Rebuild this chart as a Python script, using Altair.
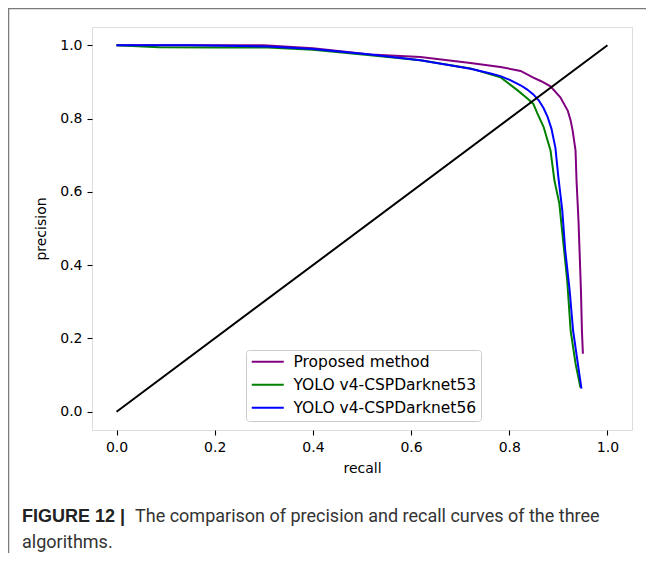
import altair as alt
import pandas as pd

series_names = ["Proposed method", "YOLO v4-CSPDarknet53", "YOLO v4-CSPDarknet56"]
series_colors = ["purple", "green", "blue"]

proposed_recall = [0.0, 0.15, 0.30, 0.40, 0.517, 0.619, 0.721, 0.782, 0.823, 0.849, 0.865,
                   0.884, 0.904, 0.919, 0.925, 0.929, 0.935, 0.937, 0.941, 0.946, 0.948, 0.950]
proposed_precision = [1.0, 1.0, 1.0, 0.992, 0.975, 0.968, 0.952, 0.941, 0.930, 0.912, 0.902,
                      0.888, 0.858, 0.822, 0.795, 0.768, 0.713, 0.631, 0.522, 0.331, 0.221, 0.158]

csp53_recall = [0.0, 0.086, 0.20, 0.308, 0.40, 0.517, 0.619, 0.721, 0.782, 0.817, 0.837, 0.849,
                0.857, 0.870, 0.884, 0.892, 0.902, 0.918, 0.925, 0.935, 0.945]
csp53_precision = [1.0, 0.995, 0.994, 0.994, 0.988, 0.973, 0.959, 0.937, 0.913, 0.877, 0.855, 0.840,
                   0.815, 0.777, 0.713, 0.631, 0.568, 0.358, 0.221, 0.131, 0.066]

csp56_recall = [0.0, 0.15, 0.308, 0.40, 0.517, 0.619, 0.721, 0.762, 0.782, 0.802, 0.823, 0.836,
                0.849, 0.860, 0.870, 0.878, 0.886, 0.894, 0.900, 0.908, 0.914, 0.923, 0.930, 0.947]
csp56_precision = [1.0, 1.0, 0.997, 0.990, 0.975, 0.959, 0.936, 0.923, 0.916, 0.905, 0.891, 0.880,
                   0.866, 0.850, 0.828, 0.805, 0.772, 0.720, 0.640, 0.549, 0.440, 0.331, 0.221, 0.063]

diag_recall = [0.0, 1.0]
diag_precision = [0.0, 1.0]

axis_ticks = [0.0, 0.2, 0.4, 0.6, 0.8, 1.0]

caption_bold = "FIGURE 12 |"
caption_line1 = "The comparison of precision and recall curves of the three"
caption_line2 = "algorithms."

rows = []
for name, rs, ps in [(series_names[0], proposed_recall, proposed_precision),
                     (series_names[1], csp53_recall, csp53_precision),
                     (series_names[2], csp56_recall, csp56_precision)]:
    for i, (r, p) in enumerate(zip(rs, ps)):
        rows.append({"series": name, "recall": r, "precision": p, "idx": i})
curves = pd.DataFrame(rows)
diag = pd.DataFrame({"recall": diag_recall, "precision": diag_precision, "idx": [0, 1]})
one = pd.DataFrame({"a": [0]})

FONT = "DejaVu Sans"
FS = 14
LEG_FS = 15.5
CAP_FONT = "Roboto"
CAP_FS = 18

xscale = alt.Scale(domain=[-0.05, 1.05], nice=False, zero=False)
yscale = alt.Scale(domain=[-0.05, 1.05], nice=False, zero=False)

xaxis = alt.Axis(values=axis_ticks, format=".1f", title="recall", grid=False, domain=False,
                 tickSize=5, tickColor="black", tickWidth=1.1, labelPadding=5,
                 labelFont=FONT, labelFontSize=FS, labelColor="black",
                 titleFont=FONT, titleFontSize=FS, titleFontWeight="normal", titleColor="black",
                 titlePadding=7)
yaxis = alt.Axis(values=axis_ticks, format=".1f", title="precision", grid=False, domain=False,
                 tickSize=5, tickColor="black", tickWidth=1.1, labelPadding=5,
                 labelFont=FONT, labelFontSize=FS, labelColor="black",
                 titleFont=FONT, titleFontSize=FS, titleFontWeight="normal", titleColor="black",
                 titlePadding=11)

legend = alt.Legend(title=None, orient="none", legendX=154, legendY=323,
                    symbolType="M-3.2,0H3.2", symbolSize=100, symbolStrokeWidth=2,
                    symbolOffset=10, labelOffset=18, rowPadding=6, padding=4, labelLimit=0,
                    labelFont=FONT, labelFontSize=LEG_FS, labelColor="black",
                    strokeColor="#cccccc", fillColor="rgba(255,255,255,0.8)", cornerRadius=3)

lines = alt.Chart(curves).mark_line(strokeWidth=2, clip=True).encode(
    x=alt.X("recall:Q", scale=xscale, axis=xaxis),
    y=alt.Y("precision:Q", scale=yscale, axis=yaxis),
    color=alt.Color("series:N", scale=alt.Scale(domain=series_names, range=series_colors),
                    sort=series_names, legend=legend),
    order="idx:Q",
)

diag_line = alt.Chart(diag).mark_line(strokeWidth=2, color="black", clip=True).encode(
    x=alt.X("recall:Q", scale=xscale),
    y=alt.Y("precision:Q", scale=yscale),
    order="idx:Q",
)

border_top = alt.Chart(one).mark_rule(color="#7a7a7a", strokeWidth=1.5).encode(
    x=alt.value(-83), x2=alt.value(554), y=alt.value(-18.5))
border_left = alt.Chart(one).mark_rule(color="#7a7a7a", strokeWidth=1.5).encode(
    x=alt.value(-83.5), y=alt.value(-19), y2=alt.value(526))

cap_bold = alt.Chart(one).mark_text(font="Liberation Sans", fontSize=CAP_FS, fontWeight="bold",
                                    color="#222222", align="left", baseline="middle").encode(
    x=alt.value(-70), y=alt.value(490), text=alt.value(caption_bold))
cap_1 = alt.Chart(one).mark_text(font=CAP_FONT, fontSize=CAP_FS, color="#333333",
                                 align="left", baseline="middle").encode(
    x=alt.value(43), y=alt.value(490), text=alt.value(caption_line1))
cap_2 = alt.Chart(one).mark_text(font=CAP_FONT, fontSize=CAP_FS, color="#333333",
                                 align="left", baseline="middle").encode(
    x=alt.value(-70), y=alt.value(516), text=alt.value(caption_line2))

chart = alt.layer(lines, diag_line, border_top, border_left, cap_bold, cap_1, cap_2).properties(
    width=540, height=403,
    autosize=alt.AutoSizeParams(type="none"),
    padding={"left": 84, "top": 19, "right": 14, "bottom": 123},
).configure_view(stroke="black", strokeWidth=1).configure(background="white")

chart.save("out.html", embed_options={"renderer": "svg", "actions": False})
